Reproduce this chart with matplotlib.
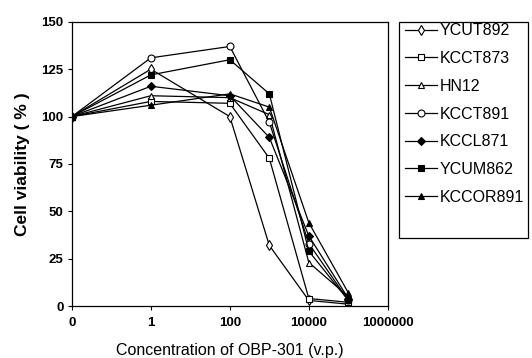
import matplotlib
matplotlib.use("Agg")
import matplotlib.pyplot as plt
from matplotlib.patches import Rectangle

plt.rcParams['font.family'] = ['Liberation Sans', 'DejaVu Sans']

# concentration (v.p.); "0" is drawn at 0.01 on the log axis
conc = [0.01, 1, 100, 1000, 10000, 100000]
xtick_vals = [0.01, 1, 100, 10000, 1000000]
xtick_labels = ["0", "1", "100", "10000", "1000000"]
ytick_vals = [0, 25, 50, 75, 100, 125, 150]

ycut892 = [100, 125, 100, 32, 3, 1]
kcct873 = [100, 108, 107, 78, 4, 2]
hn12 = [100, 111, 110, 101, 23, 5]
kcct891 = [100, 131, 137, 97, 33, 3]
kccl871 = [100, 116, 111, 89, 37, 4]
ycum862 = [100, 122, 130, 112, 29, 3]
kccor891 = [100, 106, 112, 105, 44, 7]

series = [
    ("YCUT892", ycut892, "d", "white"),
    ("KCCT873", kcct873, "s", "white"),
    ("HN12", hn12, "^", "white"),
    ("KCCT891", kcct891, "o", "white"),
    ("KCCL871", kccl871, "D", "black"),
    ("YCUM862", ycum862, "s", "black"),
    ("KCCOR891", kccor891, "^", "black"),
]

fig = plt.figure(figsize=(5.32, 3.58), dpi=100)
ax = fig.add_axes([0.135, 0.145, 0.594, 0.794])

handles = []
for name, vals, mk, fc in series:
    ms = 5 if mk != "D" else 4
    h, = ax.plot(conc, vals, color="black", lw=0.9, marker=mk, ms=ms,
                 mfc=fc, mec="black", mew=0.8, label=name)
    handles.append(h)

ax.set_xscale("log")
ax.set_xlim(0.01, 1000000)
ax.set_ylim(0, 150)
ax.set_xticks(xtick_vals)
ax.set_xticklabels(xtick_labels)
ax.minorticks_off()
ax.set_yticks(ytick_vals)
ax.tick_params(direction="out", length=3, width=0.8, labelsize=9.5, pad=3)
ax.tick_params(axis="x", pad=5)
for lab in ax.get_xticklabels() + ax.get_yticklabels():
    lab.set_fontweight("bold")
for sp in ax.spines.values():
    sp.set_linewidth(0.9)

ax.set_xlabel("Concentration of OBP-301 (v.p.)", fontsize=11.5, labelpad=10)
ax.set_ylabel("Cell viability ( % )", fontsize=12.5, fontweight="bold",
              labelpad=8)

leg = fig.legend(handles=handles, loc="upper left",
                 bbox_to_anchor=(402 / 532, 1 - 20 / 358),
                 frameon=False, fontsize=11.5, handlelength=2.0,
                 handletextpad=0.15, labelspacing=0.8, borderpad=0.2,
                 borderaxespad=0)
fig.add_artist(Rectangle((399 / 532, 1 - 238 / 358), 129 / 532, 216 / 358,
                         transform=fig.transFigure, fill=False,
                         edgecolor="black", lw=0.9))

fig.savefig("out.png", dpi=100)
